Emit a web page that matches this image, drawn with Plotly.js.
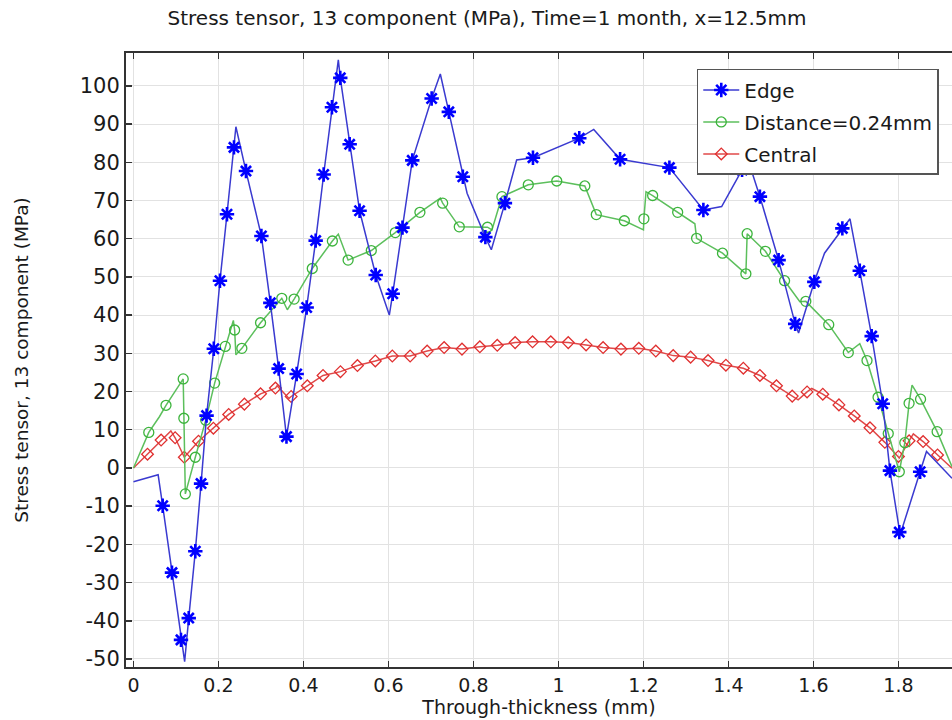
<!DOCTYPE html>
<html>
<head>
<meta charset="utf-8">
<script src="https://cdn.plot.ly/plotly-3.0.1.min.js"></script>
<style>html,body{margin:0;padding:0;background:#fff;}#chart{width:952px;height:720px;}</style>
</head>
<body>
<div id="chart"></div>
<script>
// ---- data ----
const seriesNames = ["Edge", "Distance=0.24mm", "Central"];

// Edge: polyline vertices
const edgeLineX = [0, 0.058, 0.0687, 0.0906, 0.1118, 0.1204, 0.130, 0.1455, 0.159, 0.172, 0.189, 0.2035, 0.220, 0.2365, 0.241, 0.2647, 0.301, 0.322, 0.3416, 0.360, 0.384, 0.4075, 0.4287, 0.4475, 0.467, 0.482, 0.4866, 0.5087, 0.532, 0.570, 0.602, 0.610, 0.633, 0.656, 0.7016, 0.722, 0.742, 0.775, 0.785, 0.828, 0.842, 0.874, 0.9016, 0.940, 1.049, 1.083, 1.145, 1.261, 1.341, 1.384, 1.432, 1.445, 1.474, 1.518, 1.557, 1.565, 1.602, 1.626, 1.668, 1.686, 1.709, 1.737, 1.763, 1.780, 1.804, 1.851, 1.866, 1.926];
const edgeLineY = [-3.6, -1.8, -9.9, -27.4, -45.0, -50.7, -39.3, -21.8, -4.1, 13.7, 31.2, 49.0, 66.4, 83.9, 89.3, 77.7, 60.7, 43.2, 26.0, 8.2, 24.6, 42.0, 59.5, 76.8, 94.4, 106.8, 102.1, 84.7, 67.3, 50.5, 40.0, 45.6, 62.9, 80.5, 96.7, 103.1, 93.2, 76.2, 71.9, 60.4, 57.1, 69.3, 80.6, 81.2, 86.3, 88.6, 80.8, 78.6, 67.5, 68.4, 78.0, 81.0, 71.0, 54.4, 37.7, 35.3, 48.7, 56.2, 62.7, 65.2, 51.6, 34.5, 16.8, -0.7, -17.5, -1.0, 4.3, -2.7];
// Edge: marker positions
const edgeMarkX = [0.0687, 0.0906, 0.1118, 0.130, 0.1455, 0.159, 0.172, 0.189, 0.2035, 0.220, 0.2365, 0.2647, 0.301, 0.322, 0.3416, 0.360, 0.384, 0.4075, 0.4287, 0.4475, 0.467, 0.4866, 0.5087, 0.532, 0.570, 0.610, 0.633, 0.656, 0.7016, 0.742, 0.775, 0.828, 0.874, 0.940, 1.049, 1.145, 1.261, 1.341, 1.432, 1.474, 1.518, 1.557, 1.602, 1.668, 1.709, 1.737, 1.763, 1.780, 1.802, 1.851];
const edgeMarkY = [-9.9, -27.4, -45.0, -39.3, -21.8, -4.1, 13.7, 31.2, 49.0, 66.4, 83.9, 77.7, 60.7, 43.2, 26.0, 8.2, 24.6, 42.0, 59.5, 76.8, 94.4, 102.1, 84.7, 67.3, 50.5, 45.6, 62.9, 80.5, 96.7, 93.2, 76.2, 60.4, 69.3, 81.2, 86.3, 80.8, 78.6, 67.5, 78.0, 71.0, 54.4, 37.7, 48.7, 62.7, 51.6, 34.5, 16.8, -0.7, -16.8, -1.0];

// Distance=0.24mm: polyline vertices
const distLineX = [0, 0.036, 0.061, 0.0765, 0.117, 0.1185, 0.122, 0.1455, 0.170, 0.191, 0.216, 0.235, 0.238, 0.241, 0.255, 0.299, 0.349, 0.362, 0.378, 0.4207, 0.468, 0.482, 0.505, 0.5596, 0.616, 0.674, 0.722, 0.7275, 0.7666, 0.833, 0.8435, 0.867, 0.929, 0.996, 1.062, 1.089, 1.155, 1.200, 1.201, 1.206, 1.2216, 1.2805, 1.321, 1.325, 1.386, 1.441, 1.444, 1.487, 1.532, 1.568, 1.582, 1.636, 1.682, 1.709, 1.726, 1.752, 1.776, 1.802, 1.815, 1.825, 1.832, 1.852, 1.891, 1.926];
const distLineY = [0, 9.3, 13.4, 16.4, 23.3, 13.0, -6.8, 2.8, 12.5, 22.2, 31.8, 38.6, 36.1, 29.6, 31.3, 38.0, 44.4, 41.4, 44.2, 52.2, 59.4, 61.2, 54.4, 56.9, 61.6, 66.9, 70.6, 69.3, 63.1, 63.0, 62.3, 71.0, 74.1, 75.1, 73.8, 66.3, 64.7, 62.3, 65.2, 72.3, 71.3, 66.9, 63.9, 60.1, 56.2, 50.8, 61.3, 56.7, 49.0, 43.5, 43.6, 37.5, 30.2, 32.5, 28.1, 18.5, 9.0, -1.0, 6.6, 16.9, 21.7, 18.0, 9.5, 0.3];
// Distance=0.24mm: marker positions
const distMarkX = [0.036, 0.0765, 0.117, 0.1185, 0.122, 0.1455, 0.170, 0.191, 0.216, 0.238, 0.255, 0.299, 0.349, 0.378, 0.4207, 0.468, 0.505, 0.5596, 0.616, 0.674, 0.7275, 0.7666, 0.833, 0.867, 0.929, 0.996, 1.062, 1.089, 1.155, 1.201, 1.2216, 1.2805, 1.325, 1.386, 1.441, 1.444, 1.487, 1.532, 1.582, 1.636, 1.682, 1.726, 1.752, 1.776, 1.802, 1.815, 1.825, 1.852, 1.891];
const distMarkY = [9.3, 16.4, 23.3, 13.0, -6.8, 2.8, 12.5, 22.2, 31.8, 36.1, 31.3, 38.0, 44.4, 44.2, 52.2, 59.4, 54.4, 56.9, 61.6, 66.9, 69.3, 63.1, 63.0, 71.0, 74.1, 75.1, 73.8, 66.3, 64.7, 65.2, 71.3, 66.9, 60.1, 56.2, 50.8, 61.3, 56.7, 49.0, 43.6, 37.5, 30.2, 28.1, 18.5, 9.0, -1.0, 6.6, 16.9, 18.0, 9.5];

// Central: polyline vertices
const centLineX = [0, 0.033, 0.065, 0.088, 0.098, 0.1196, 0.153, 0.188, 0.224, 0.261, 0.299, 0.334, 0.338, 0.366, 0.371, 0.409, 0.446, 0.487, 0.527, 0.569, 0.609, 0.651, 0.691, 0.731, 0.773, 0.815, 0.856, 0.898, 0.939, 0.982, 1.023, 1.065, 1.105, 1.147, 1.189, 1.229, 1.270, 1.311, 1.352, 1.394, 1.435, 1.474, 1.513, 1.550, 1.564, 1.585, 1.596, 1.622, 1.660, 1.696, 1.733, 1.768, 1.802, 1.825, 1.835, 1.858, 1.892, 1.926];
const centLineY = [0, 3.6, 7.3, 9.7, 7.9, 2.8, 7.0, 10.4, 14.0, 16.7, 19.4, 20.9, 21.5, 18.2, 18.7, 21.5, 24.2, 25.2, 26.8, 28.0, 29.3, 29.3, 30.6, 31.5, 31.1, 31.7, 32.1, 32.8, 33.0, 33.0, 32.8, 32.2, 31.5, 31.1, 31.3, 30.6, 29.4, 29.0, 28.1, 26.9, 26.1, 24.2, 21.5, 18.8, 17.8, 19.9, 20.8, 19.3, 16.5, 13.6, 10.5, 6.7, 2.6, 7.1, 8.9, 6.9, 3.4, -0.1];
// Central: marker positions
const centMarkX = [0.033, 0.065, 0.098, 0.1196, 0.153, 0.188, 0.224, 0.261, 0.299, 0.334, 0.371, 0.409, 0.446, 0.487, 0.527, 0.569, 0.609, 0.651, 0.691, 0.731, 0.773, 0.815, 0.856, 0.898, 0.939, 0.982, 1.023, 1.065, 1.105, 1.147, 1.189, 1.229, 1.270, 1.311, 1.352, 1.394, 1.435, 1.474, 1.513, 1.550, 1.585, 1.622, 1.660, 1.696, 1.733, 1.768, 1.800, 1.825, 1.858, 1.892];
const centMarkY = [3.6, 7.3, 7.9, 2.8, 7.0, 10.4, 14.0, 16.7, 19.4, 20.9, 18.7, 21.5, 24.2, 25.2, 26.8, 28.0, 29.3, 29.3, 30.6, 31.5, 31.1, 31.7, 32.1, 32.8, 33.0, 33.0, 32.8, 32.2, 31.5, 31.1, 31.3, 30.6, 29.4, 29.0, 28.1, 26.9, 26.1, 24.2, 21.5, 18.8, 19.9, 19.3, 16.5, 13.6, 10.5, 6.7, 3.0, 7.1, 6.9, 3.4];

const xTickVals = [0, 0.2, 0.4, 0.6, 0.8, 1, 1.2, 1.4, 1.6, 1.8];
const xTickText = ["0", "0.2", "0.4", "0.6", "0.8", "1", "1.2", "1.4", "1.6", "1.8"];
const yTickVals = [-50, -40, -30, -20, -10, 0, 10, 20, 30, 40, 50, 60, 70, 80, 90, 100];
const yTickText = ["-50", "-40", "-30", "-20", "-10", "0", "10", "20", "30", "40", "50", "60", "70", "80", "90", "100"];

const titleText = "Stress tensor, 13 component (MPa), Time=1 month, x=12.5mm";
const xTitle = "Through-thickness (mm)";
const yTitle = "Stress tensor, 13 component (MPa)";

// ---- styles ----
const FONT = "DejaVu Sans, Verdana, sans-serif";
const styles = [
  {line: "#3a3ad0", mark: "#0000ff", symbol: "asterisk-open", size: 12, mlw: 2.6},
  {line: "#5cbf5c", mark: "#3cb43c", symbol: "circle-open", size: 10, mlw: 1.3},
  {line: "#e04848", mark: "#e03030", symbol: "diamond-open", size: 9, mlw: 1.3}
];

function lineTrace(x, y, s) {
  return {x: x, y: y, type: "scatter", mode: "lines", showlegend: false, hoverinfo: "skip",
          line: {color: s.line, width: 1.5}};
}
function markTrace(x, y, s) {
  return {x: x, y: y, type: "scatter", mode: "markers", showlegend: false,
          marker: {symbol: s.symbol, size: s.size, color: s.mark, line: {color: s.mark, width: s.mlw}}};
}
function legendTrace(name, s, g) {
  return {x: [null], y: [null], type: "scatter", mode: "lines+markers", name: name, legendgroup: g,
          line: {color: s.line, width: 1.5},
          marker: {symbol: s.symbol, size: s.size, color: s.mark, line: {color: s.mark, width: s.mlw}}};
}

const data = [
  lineTrace(centLineX, centLineY, styles[2]), markTrace(centMarkX, centMarkY, styles[2]),
  lineTrace(distLineX, distLineY, styles[1]), markTrace(distMarkX, distMarkY, styles[1]),
  lineTrace(edgeLineX, edgeLineY, styles[0]), markTrace(edgeMarkX, edgeMarkY, styles[0]),
  legendTrace(seriesNames[0], styles[0], "a"),
  legendTrace(seriesNames[1], styles[1], "b"),
  legendTrace(seriesNames[2], styles[2], "c")
];

const layout = {
  width: 952, height: 720,
  margin: {l: 126, r: 0, t: 53, b: 53, pad: 0},
  paper_bgcolor: "#ffffff", plot_bgcolor: "#ffffff",
  font: {family: FONT, size: 20, color: "#1a1a1a"},
  title: {text: titleText, font: {family: FONT, size: 20, color: "#1a1a1a"},
          x: 0.5116, xref: "container", xanchor: "center", y: 0.975, yref: "container", yanchor: "middle"},
  xaxis: {
    range: [-0.0176, 1.926], tickvals: xTickVals, ticktext: xTickText,
    ticks: "inside", ticklen: 6, tickwidth: 1.5, tickcolor: "#333",
    showline: true, linecolor: "#333", linewidth: 2, mirror: "allticks",
    showgrid: true, gridcolor: "#e2e2e2", gridwidth: 1, zeroline: false,
    tickfont: {family: FONT, size: 19, color: "#1a1a1a"},
    title: {text: xTitle, font: {family: FONT, size: 19, color: "#1a1a1a"}, standoff: 3}
  },
  yaxis: {
    range: [-52.1, 108.6], tickvals: yTickVals, ticktext: yTickText,
    ticks: "inside", ticklen: 6, tickwidth: 1.5, tickcolor: "#333",
    showline: true, linecolor: "#333", linewidth: 2, mirror: false,
    showgrid: true, gridcolor: "#e2e2e2", gridwidth: 1, zeroline: false,
    tickfont: {family: FONT, size: 21, color: "#1a1a1a"},
    title: {text: yTitle, font: {family: FONT, size: 18.5, color: "#1a1a1a"}, standoff: 46}
  },
  legend: {
    x: 0.691, y: 0.974, xanchor: "left", yanchor: "top",
    bgcolor: "#ffffff", bordercolor: "#555", borderwidth: 1.5,
    font: {family: FONT, size: 20, color: "#1a1a1a"},
    traceorder: "grouped", tracegroupgap: 3, itemwidth: 36
  },
  showlegend: true
};

Plotly.newPlot("chart", data, layout, {staticPlot: true, displayModeBar: false});
</script>
</body>
</html>
